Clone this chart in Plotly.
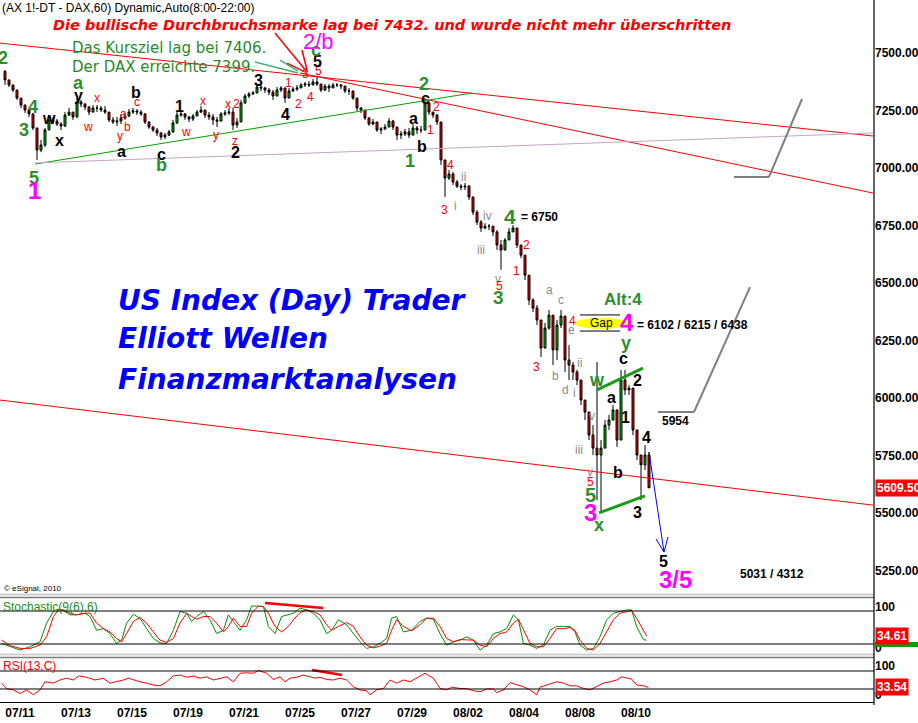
import plotly.graph_objects as go

# ---------------- DATA ----------------
# 2-hour candles, DAX future (hours counted from 07/11 08:00, 14 trading hours per day)
first_open = 7420
close = [7383,7361,7339,7304,7274,7252,7235,7174,7078,7100,7165,7209,7204,7191,7183,7230,7243,7222,7287,7278,
         7265,7243,7261,7261,7252,7243,7209,7200,7204,7217,7226,7243,7248,7243,7235,7200,7178,7165,7152,7135,
         7143,7157,7196,7230,7235,7222,7213,7226,7243,7252,7230,7222,7209,7204,7235,7239,7243,7187,7200,7283,
         7313,7322,7326,7352,7348,7339,7330,7313,7339,7348,7304,7335,7343,7348,7361,7365,7361,7374,7365,7339,
         7356,7348,7361,7361,7356,7335,7335,7304,7261,7252,7217,7191,7200,7165,7170,7178,7204,7178,7143,7148,
         7157,7143,7174,7165,7165,7283,7243,7230,7200,7035,6956,6974,6939,6921,6917,6921,6874,6808,6765,6739,
         6747,6747,6722,6665,6643,6687,6722,6739,6665,6621,6534,6426,6391,6339,6217,6304,6360,6209,6317,6356,
         6165,6143,6113,6078,5991,5939,5839,5782,5752,5782,5882,5904,5948,5817,6078,6035,6043,5861,5752,5709,
         5752,5609.5]
high = [7426,7383,7361,7330,7296,7270,7248,7239,7174,7122,7174,7222,7222,7213,7200,7243,7261,7239,7304,7296,
        7283,7270,7274,7274,7270,7270,7243,7222,7222,7235,7239,7257,7261,7257,7252,7239,7204,7183,7174,7157,
        7152,7165,7209,7243,7248,7239,7226,7235,7252,7270,7252,7243,7235,7222,7243,7252,7261,7261,7217,7296,
        7322,7330,7335,7365,7361,7352,7348,7339,7352,7356,7339,7348,7352,7361,7369,7374,7378,7387,7400,7365,
        7365,7365,7369,7369,7365,7356,7348,7330,7304,7265,7243,7222,7213,7200,7178,7191,7217,7209,7178,7161,
        7170,7174,7191,7183,7183,7304,7283,7243,7235,7187,7035,6991,6983,6948,6930,6935,6926,6874,6817,6774,
        6760,6756,6747,6730,6687,6695,6739,6752,6739,6665,6608,6534,6434,6404,6339,6326,6383,6360,6339,6383,
        6356,6230,6156,6122,6078,5991,5939,5882,6156,5817,5904,5926,5969,5948,6122,6122,6056,6043,5861,5752,
        5795,5765]
low = [7361,7352,7330,7296,7261,7239,7222,7165,7035,7069,7091,7165,7191,7183,7165,7178,7226,7209,7217,7265,
       7252,7230,7243,7243,7243,7235,7200,7191,7183,7191,7209,7222,7235,7230,7226,7191,7170,7157,7139,7122,
       7126,7139,7152,7191,7222,7209,7200,7204,7226,7239,7217,7209,7187,7178,7217,7226,7230,7165,7174,7200,
       7278,7304,7317,7326,7335,7326,7317,7296,7322,7330,7283,7304,7330,7335,7348,7352,7352,7361,7356,7330,
       7335,7330,7348,7352,7343,7326,7317,7296,7248,7239,7209,7183,7187,7157,7148,7165,7187,7165,7122,7126,
       7139,7130,7143,7148,7152,7165,7230,7217,7187,7013,6874,6948,6926,6913,6904,6904,6861,6795,6752,6722,
       6734,6730,6704,6643,6557,6643,6687,6722,6652,6608,6513,6404,6374,6317,6178,6230,6296,6143,6165,6304,
       6113,6078,6078,6056,5969,5904,5817,5752,5556,5500,5795,5861,5913,5787,5817,6013,6013,5839,5730,5556,
       5687,5609]
bar_hour = [2 * j + 0.5 for j in range(-4, 158)]
opens = [first_open] + close[:-1]

# Stochastic(9(6),6): %K green, %D red
stoch_h = [-9.2,-5,0,5,10,13.3,16.7,19.2,21.7,25,28.3,32.5,35,38.3,41.7,45,48.3,50.8,53.3,56.7,
           60,63.3,66.7,70,73.3,76.7,80,83.3,85.8,88.3,91.7,95,98.3,101.7,104.2,106.7,110,113.3,115.8,119.2,
           121.7,124.2,127.5,130.8,134.2,136.7,140,143.3,146.7,150,153.3,155.8,159.2,163.3,166.7,170,173.3,176.7,180,183.3,
           185.8,188.3,191.7,195.8,200,203.3,206.7,210,213.3,216.7,220,223.3,226.7,230,233.3,236.7,240,243.3,246.7,249.2,
           251.7,255,258.3,261.7,265,268.3,271.7,275,277.5,280,283.3,286.7,290,293.3,296.7,300,303.3,305.8,308.3,311.7,313.3]
stoch_k = [21,15,9,15,24,58,79,83,81,73,73,76,70,45,48,39,21,27,58,74,
           67,48,30,22,21,45,79,76,61,70,79,64,39,45,73,61,45,64,89,89,
           88,52,39,70,73,76,85,82,76,64,39,45,64,55,39,24,12,15,21,30,
           67,70,42,45,61,67,65,39,18,24,27,33,27,9,18,39,42,48,73,64,
           21,18,12,18,45,52,52,52,42,18,9,12,33,64,76,79,82,82,52,28,27]
stoch_d = [27,17,12,12,18,33,70,82,82,76,73,76,76,58,48,42,30,24,39,61,
           68,58,42,27,23,30,58,76,70,65,70,70,58,42,52,67,52,52,76,89,
           88,76,52,42,52,64,77,82,79,73,55,45,52,59,52,33,18,13,16,21,
           45,64,52,44,55,67,67,52,30,24,28,28,27,18,15,30,39,42,58,65,
           45,21,15,15,30,48,48,50,45,27,12,9,21,42,64,76,79,81,67,45,34.61]

# RSI(13,C)
rsi_h = [-9.2,-6.7,-3.3,0,3.3,6.7,10,12.5,16.7,20,23.3,26.7,29.2,33.3,37.5,41.7,45,48.3,51.7,54.2,
         56.7,60,63.3,66.7,70,73.3,76.7,80,83.3,86.7,90,93.3,96.7,100,103.3,106.7,110,113.3,116.7,119.2,
         123.3,126.7,130,132.5,135,138.3,141.7,145,147.5,150,153.3,156.7,160,163.3,166.7,170,173.3,175,178.3,181.7,
         185,188.3,191.7,195,198.3,202.5,206.7,210,213.3,215.8,220,223.3,226.7,230,233.3,236.7,238.3,241.7,245,248.3,
         251.7,255,258.3,260,263.3,268.3,271.7,275,278.3,281.7,285,288.3,291.7,295,298.3,300.8,303.3,305.8,308.3,311.7,314.2]
rsi_v = [43,31,28,20,28,17,28,46,43,50,54,50,59,56,50,54,43,46,50,54,
         50,46,43,39,37,46,59,61,56,59,54,57,50,54,57,46,65,66,65,71,
         65,51,57,46,54,56,61,57,54,56,51,50,54,50,35,28,26,17,28,31,
         50,43,50,46,54,65,54,31,28,34,31,31,26,24,30,30,22,28,44,39,
         35,28,17,34,39,46,43,37,37,31,28,35,43,46,50,57,54,52,39,37,33.54]

date_hours = [0, 28, 56, 84, 112, 140, 168, 196, 224, 252, 280, 308]
date_labels = ["07/11", "07/13", "07/15", "07/19", "07/21", "07/25", "07/27", "07/29",
               "08/02", "08/04", "08/08", "08/10"]
price_ticks = [5250, 5500, 5750, 6000, 6250, 6500, 6750, 7000, 7250, 7500]
last_price = 5609.50
last_stoch_d = 34.61
last_rsi = 33.54

# ---------------- FIGURE ----------------
FONT = "Liberation Sans, Arial, sans-serif"
WIDE = "DejaVu Sans, Liberation Sans, sans-serif"
G, K, R, M, S = "#2d8f2d", "#000000", "#ff0000", "#ff00ff", "#8c8c8c"

hi = [max(h, o, c) for h, o, c in zip(high, opens, close)]
lo = [min(l, o, c) for l, o, c in zip(low, opens, close)]

fig = go.Figure()
fig.add_trace(go.Candlestick(
    x=bar_hour, open=opens, high=hi, low=lo, close=close,
    increasing=dict(line=dict(color="black", width=1), fillcolor="#00c800"),
    decreasing=dict(line=dict(color="black", width=1), fillcolor="#ff0000"),
    whiskerwidth=0, xaxis="x", yaxis="y", showlegend=False, hoverinfo="skip"))
fig.add_trace(go.Scatter(x=stoch_h, y=stoch_k, mode="lines", line=dict(color="#009000", width=1),
                         xaxis="x", yaxis="y2", showlegend=False, hoverinfo="skip"))
fig.add_trace(go.Scatter(x=stoch_h, y=stoch_d, mode="lines", line=dict(color="#ff0000", width=1),
                         xaxis="x", yaxis="y2", showlegend=False, hoverinfo="skip"))
fig.add_trace(go.Scatter(x=rsi_h, y=rsi_v, mode="lines", line=dict(color="#ff0000", width=1),
                         xaxis="x", yaxis="y3", showlegend=False, hoverinfo="skip"))

H = 702.0
def py(y):
    return (H - y) / H

shapes = []
def seg(x0, y0, x1, y1, color, width=1, yref="y", dash=None):
    shapes.append(dict(type="line", xref="x", yref=yref, x0=x0, y0=y0, x1=x1, y1=y1,
                       line=dict(color=color, width=width, dash=dash)))

# trend lines (hour, price)
seg(-10, 7543, 426.5, 7139, "#ff0000", 1)
seg(140, 7413, 426.5, 6891, "#ff0000", 1)
seg(-10, 5991, 426.5, 5534, "#ff0000", 1)
seg(7.5, 7017, 226, 7326, "#00a000", 1)
seg(7.5, 7022, 426.5, 7152, "#c4a6c4", 1)
# projections
seg(357, 6961, 374.5, 6961, "#808080", 2)
seg(374.5, 6961, 391, 7300, "#808080", 2)
seg(319, 5939, 337, 5939, "#808080", 2)
seg(337, 5939, 365, 6482, "#808080", 2)
# channel
seg(288.5, 6035, 311.5, 6130, "#1a9a1a", 3)
seg(289.5, 5500, 312.5, 5574, "#1a9a1a", 3)
# blue arrow
seg(314.5, 5765, 322, 5330, "#0000ff", 1)
seg(318, 5387, 322, 5330, "#0000ff", 1)
seg(324, 5396, 322, 5330, "#0000ff", 1)
# red / green pointer arrows
seg(127.5, 7587, 143.5, 7417, "#ff0000", 1.5)
seg(141, 7513, 143.5, 7426, "#ff0000", 1.5)
seg(133.5, 7456, 142.5, 7417, "#ff0000", 1.5)
seg(117.5, 7461, 139, 7413, "#3cb37a", 1.5)
seg(130, 7469, 139, 7421, "#3cb37a", 1.5)
# gap marker
shapes.append(dict(type="circle", xref="x", yref="y", x0=277.5, x1=303.5, y0=6300, y1=6348,
                   fillcolor="#ffff00", line=dict(width=0), layer="above"))
seg(280, 6361, 300, 6361, "black", 1)
seg(280, 6291, 300, 6291, "black", 1)
# divergence marks
seg(122.5, 94.5, 151.5, 85.5, "#ff0000", 2.5, yref="y2")
seg(146, 72, 161, 61, "#ff0000", 2.5, yref="y3")

# indicator levels
for v in (80, 20):
    shapes.append(dict(type="line", xref="paper", yref="y2", x0=0, x1=1, y0=v, y1=v,
                       line=dict(color="black", width=1)))
for v in (70, 30):
    shapes.append(dict(type="line", xref="paper", yref="y3", x0=0, x1=1, y0=v, y1=v,
                       line=dict(color="black", width=1)))
# panel separators
for yy, col, w in ((594.5, "#cfcfcf", 2), (597.5, "#7a7a7a", 1.5), (654.5, "#cfcfcf", 2), (657.5, "#7a7a7a", 1.5)):
    shapes.append(dict(type="line", xref="paper", yref="paper", x0=0, x1=1, y0=py(yy), y1=py(yy),
                       line=dict(color=col, width=w)))
# right axis line
shapes.append(dict(type="line", xref="paper", yref="paper", x0=1, x1=1, y0=py(705), y1=1,
                   line=dict(color="black", width=1.2)))
# green %K tag under the %D tag
shapes.append(dict(type="rect", xref="paper", yref="y2", x0=1.001, x1=1.06, y0=14.5, y1=23.5,
                   fillcolor="#00a000", line=dict(width=0)))

ann = []
def lab(t, x, y, color, size, bold=True, anchor="center"):
    ann.append(dict(text=t, x=x, y=y, xref="x", yref="y", showarrow=False, xanchor=anchor,
                    font=dict(family=FONT, size=size, color=color, weight="bold" if bold else "normal")))

labels = [
    ("2", -8.5, 7478, G, 18, True), ("4", 6.5, 7265, G, 18, True), ("3", 2, 7165, G, 18, True),
    ("w", 14.5, 7217, K, 16, True), ("x", 19.5, 7121, K, 16, True), ("5", 7, 6956, G, 18, True),
    ("1", 7, 6900, M, 24, True), ("a", 29, 7369, G, 18, True), ("y", 29, 7317, K, 16, True),
    ("x", 38.5, 7304, R, 12, False), ("w", 34, 7178, R, 12, False), ("b", 58, 7330, K, 16, True),
    ("c", 58.5, 7287, R, 12, False), ("a", 51.5, 7234, R, 12, False), ("b", 53.5, 7178, R, 12, False),
    ("y", 50, 7139, R, 12, False), ("a", 50.5, 7073, K, 16, True), ("c", 70.5, 7060, K, 16, True),
    ("b", 70.5, 7013, G, 18, True), ("1", 79.5, 7269, K, 16, True), ("x", 91.5, 7291, R, 12, False),
    ("w", 83, 7156, R, 12, False), ("y", 98, 7143, R, 12, False), ("x", 104, 7278, R, 12, False),
    ("2", 108, 7278, R, 12, False), ("z", 107.5, 7117, R, 12, False), ("2", 107.5, 7069, K, 16, True),
    ("3", 119, 7382, K, 16, True), ("1", 134, 7369, R, 12, False), ("2", 139, 7278, R, 12, False),
    ("4", 145, 7308, R, 12, False), ("4", 132.5, 7234, K, 16, True), ("3", 142.5, 7408, R, 12, False),
    ("5", 149, 7421, R, 12, False), ("5", 148.5, 7461, K, 16, True), ("c", 148, 7513, G, 18, True),
    ("2/b", 149, 7548, M, 22, False), ("2", 202, 7365, G, 18, True), ("c", 202.5, 7304, K, 16, True),
    ("2", 208, 7265, R, 12, False), ("a", 196.5, 7217, K, 16, True), ("1", 205, 7165, R, 12, False),
    ("b", 201, 7095, K, 16, True), ("1", 195, 7030, G, 18, True), ("4", 215, 7013, R, 12, False),
    ("3", 212, 6817, R, 12, False), ("i", 217.5, 6834, S, 12, False), ("ii", 221.5, 6960, S, 12, False),
    ("iv", 233.5, 6791, S, 12, False), ("iii", 230.5, 6643, S, 12, False), ("4", 245, 6787, G, 21, True),
    ("= 6750", 259.5, 6787, K, 12, True), ("2", 253, 6665, R, 12, False), ("1", 248, 6552, R, 12, False),
    ("v", 239, 6517, S, 12, False), ("5", 239.5, 6487, R, 12, False), ("3", 239, 6439, G, 19, True),
    ("a", 264.5, 6469, S, 12, False), ("c", 270.5, 6426, S, 12, False), ("4", 276, 6334, R, 12, False),
    ("e", 275.5, 6295, S, 12, False), ("3", 258, 6134, R, 12, False), ("b", 267.5, 6095, S, 12, False),
    ("ii", 279.5, 6152, S, 12, False), ("d", 272.5, 6034, S, 12, False), ("i", 277, 6021, S, 12, False),
    ("v", 286, 5921, S, 12, False), ("iii", 279.5, 5774, S, 12, False), ("v", 285, 5678, S, 12, False),
    ("5", 285, 5634, R, 12, False), ("5", 285, 5578, G, 20, True), ("3", 285, 5504, M, 24, True),
    ("x", 289.5, 5447, G, 18, True), ("w", 288.5, 6078, G, 18, True), ("a", 295.5, 6004, K, 16, True),
    ("b", 299, 5678, K, 16, True), ("1", 302.5, 5913, K, 16, True), ("c", 301.5, 6173, K, 16, True),
    ("2", 308.5, 6078, K, 16, True), ("y", 303, 6239, G, 18, True), ("4", 303.5, 6326, M, 24, True),
    ("4", 313, 5826, K, 16, True), ("3", 308.5, 5504, K, 16, True), ("Alt:4", 301.5, 6430, G, 17, True),
    ("= 6102 / 6215 / 6438", 336, 6317, K, 12, True), ("5954", 327.5, 5900, K, 12, True),
    ("5", 321.5, 5287, K, 16, True), ("3/5", 327.5, 5210, M, 24, True), ("5031 / 4312", 376, 5234, K, 12, True),
    ("Gap", 290.5, 6326, K, 12, False),
]
for t, x, y, c, s, b in labels:
    lab(t, x, y, c, s, b)

def ptext(t, x, y, color, size, bold=False, italic=False, anchor="left", family=FONT):
    ann.append(dict(text=t, x=x / 874.0, y=py(y), xref="paper", yref="paper", showarrow=False,
                    xanchor=anchor, yanchor="middle",
                    font=dict(family=family, size=size, color=color, weight="bold" if bold else "normal",
                              style="italic" if italic else "normal")))

ptext("(AX 1!-DT - DAX,60) Dynamic,Auto(8:00-22:00)", 0, 8, "black", 12)
ptext("Die bullische Durchbruchsmarke lag bei 7432. und wurde nicht mehr überschritten", 392, 25, "#ff0000", 14.5,
      bold=True, italic=True, anchor="center", family=WIDE)
ptext("Das Kursziel lag bei 7406.", 70, 48, "#2a8a2a", 15, family=WIDE)
ptext("Der DAX erreichte 7399.", 70, 67, "#2a8a2a", 15, family=WIDE)
ptext("US Index (Day) Trader", 116, 301, "#0000ff", 28, bold=True, italic=True, family=WIDE)
ptext("Elliott Wellen", 116, 339, "#0000ff", 28, bold=True, italic=True, family=WIDE)
ptext("Finanzmarktanalysen", 116, 379, "#0000ff", 28, bold=True, italic=True, family=WIDE)
ptext("© eSignal, 2010", 2, 588, "black", 8)
ptext("Stochastic(9(6),6)", 1, 607, "#1a8c1a", 12)
ptext("RSI(13,C)", 1, 666, "#ff0000", 12)

def tag(v, yref, text):
    ann.append(dict(text=text, x=1, y=v, xref="paper", yref=yref, xanchor="left", yanchor="middle",
                    xshift=1, showarrow=False, bgcolor="#ff0000", borderpad=1,
                    font=dict(family=FONT, size=12, color="white", weight="bold")))

tag(last_price, "y", "%.2f" % last_price)
tag(last_stoch_d, "y2", "%.2f" % last_stoch_d)
tag(last_rsi, "y3", "%.2f" % last_rsi)

tickfont = dict(family=FONT, size=12, color="black", weight="bold")
fig.update_layout(
    width=918, height=723, paper_bgcolor="white", plot_bgcolor="white",
    margin=dict(l=0, r=44, t=0, b=21, pad=0),
    shapes=shapes, annotations=ann, showlegend=False,
    xaxis=dict(domain=[0, 1], range=[-10, 427], anchor="y3", tickvals=date_hours, ticktext=date_labels,
               ticks="", showgrid=False, zeroline=False, showline=True, linecolor="black", linewidth=1,
               tickfont=tickfont, rangeslider=dict(visible=False), fixedrange=True, automargin=False),
    yaxis=dict(domain=[py(595), 1], range=[5143.3, 7730.4], side="right", anchor="x",
               tickvals=price_ticks, ticktext=["%.2f" % v for v in price_ticks], ticks="",
               showgrid=False, zeroline=False, tickfont=tickfont, automargin=False),
    yaxis2=dict(domain=[py(655), py(597)], range=[0, 105.5], side="right", anchor="x",
                tickvals=[87.3, 12.7], ticktext=["100", "0"], ticks="", showgrid=False, zeroline=False,
                tickfont=tickfont, automargin=False),
    yaxis3=dict(domain=[0, py(657)], range=[1.1, 101.1], side="right", anchor="x",
                tickvals=[81, 16.7], ticktext=["100", "0"], ticks="", showgrid=False, zeroline=False,
                tickfont=tickfont, automargin=False),
)
fig.write_html("out.html", config={"displayModeBar": False},
               post_script="document.body.style.margin='0px';")
